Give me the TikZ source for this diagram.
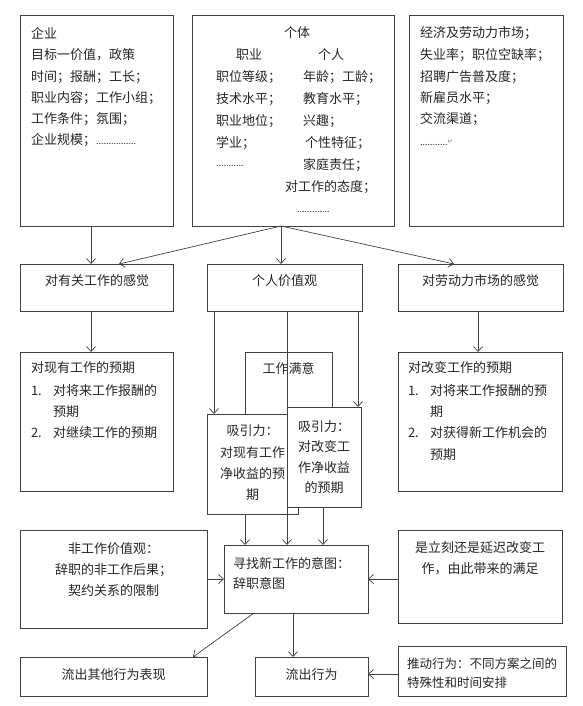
\documentclass[tikz,border=0pt]{standalone}
\usepackage{fontspec}
\setmainfont{Noto Sans CJK SC}
\newfontfamily\symfont{DejaVu Sans}
\usetikzlibrary{arrows.meta}
\newcommand{\mkbox}[5]{\node[box, anchor=north west, minimum width={#4-#2}, minimum height={#5-#3}] (#1) at (#2,#3) {};}
\newcommand{\dts}[1]{{\fontsize{9}{9}\selectfont #1}}
\begin{document}
\begin{tikzpicture}[x=1pt, y=-1pt,
  every node/.style={font=\fontsize{13}{15}\selectfont, text=black!85},
  box/.style={draw=black!75, line width=0.7pt, fill=white, inner sep=0pt, outer sep=0pt},
  openbox/.style={draw=black!75, line width=0.7pt, inner sep=0pt, outer sep=0pt},
  tl/.style={inner sep=0pt, outer sep=0pt, anchor=west},
  tb/.style={inner sep=0pt, outer sep=0pt, anchor=base west},
  tc/.style={inner sep=0pt, outer sep=0pt, anchor=center},
  arr/.style={draw=black!75, line width=0.7pt, -{Straight Barb[length=5pt, width=9pt, line width=0.7pt]}}]
\useasboundingbox (0,0) rectangle (582,706);

% ---------- top row ----------
\mkbox{qiye}{20}{15}{173}{226}
\node[tl] (q1) at (31,33) {企业};
\node[tl] (q2) at (31,55) {目标一价值，政策};
\node[tl] (q3) at (31,77) {时间；报酬；工长；};
\node[tl] (q4) at (31,98) {职业内容；工作小组；};
\node[tl] (q5) at (31,119) {工作条件；氛围；};
\node[tl] (q6) at (31,140) {企业规模；\dts{................}};

\mkbox{geti}{192}{15}{394}{226}
\node[tc] (g0) at (297,33) {个体};
\node[tc] (g1) at (249,55) {职业};
\node[tc] (g2) at (331,55) {个人};
\node[tl] (ga1) at (216,77) {职位等级；};
\node[tl] (ga2) at (216,99) {技术水平；};
\node[tl] (ga3) at (216,121) {职业地位；};
\node[tl] (ga4) at (216,143) {学业；};
\node[tb] (ga5) at (216,166) {\dts{...........}};
\node[tl] (gb1) at (303,77) {年龄；工龄；};
\node[tl] (gb2) at (303,99) {教育水平；};
\node[tl] (gb3) at (303,121) {兴趣；};
\node[tl] (gb4) at (305,143) {个性特征；};
\node[tl] (gb5) at (303,165) {家庭责任；};
\node[tl] (gb6) at (285,187) {对工作的态度；};
\node[tb] (gb7) at (297,212) {\dts{.............}};

\mkbox{jingji}{409}{15}{563}{226}
\node[tl] (j1) at (420,33) {经济及劳动力市场；};
\node[tl] (j2) at (420,55) {失业率；职位空缺率；};
\node[tl] (j3) at (420,77) {招聘广告普及度；};
\node[tl] (j4) at (420,98) {新雇员水平；};
\node[tl] (j5) at (420,119) {交流渠道；};
\node[tb] (j6) at (420,146) {\dts{...........}\raisebox{2pt}{\symfont\fontsize{6}{6}\selectfont\color{black!55}↵}};

% ---------- second row ----------
\mkbox{ganjue1}{20}{264}{173}{311}
\node[tc] (tg1) at (97,281) {对有关工作的感觉};
\mkbox{jiazhi}{207}{264}{362}{311}
\node[tc] (tjz) at (284.5,281) {个人价值观};
\mkbox{ganjue2}{398}{264}{563}{311}
\node[tc] (tg2) at (480.5,281) {对劳动力市场的感觉};

% ---------- expectations ----------
\mkbox{yuqi1}{20}{352}{173}{491}
\node[tl] (y1a) at (31,368) {对现有工作的预期};
\node[tl] (y1b) at (31,391) {1.};
\node[tl] (y1c) at (53,391) {对将来工作报酬的};
\node[tl] (y1d) at (53,412) {预期};
\node[tl] (y1e) at (31,433) {2.};
\node[tl] (y1f) at (53,433) {对继续工作的预期};

\mkbox{yuqi2}{398}{352}{562}{491}
\node[tl] (y2a) at (408,368) {对改变工作的预期};
\node[tl] (y2b) at (408,391) {1.};
\node[tl] (y2c) at (430,391) {对将来工作报酬的预};
\node[tl] (y2d) at (430,412) {期};
\node[tl] (y2e) at (408,433) {2.};
\node[tl] (y2f) at (430,433) {对获得新工作机会的};
\node[tl] (y2g) at (430,455) {预期};

% ---------- satisfaction & attraction ----------
\node[openbox, anchor=north west, minimum width=87, minimum height=100] (manyi) at (245,352) {};
\node[tc] (tmy) at (288.5,368) {工作满意};

\mkbox{xiyin1}{207}{414}{298}{514}
\node[tc] (x1a) at (252.5,431) {吸引力：};
\node[tc] (x1b) at (252.5,453) {对现有工作};
\node[tc] (x1c) at (252.5,474) {净收益的预};
\node[tc] (x1d) at (252.5,495) {期};

\mkbox{xiyin2}{287}{407}{361}{507}
\node[tc] (x2a) at (324,427) {吸引力：};
\node[tc] (x2b) at (324,447) {对改变工};
\node[tc] (x2c) at (324,468) {作净收益};
\node[tc] (x2d) at (324,488) {的预期};

% ---------- bottom ----------
\mkbox{feigz}{20}{530}{207}{628}
\node[tc] (f1) at (113.5,549) {非工作价值观：};
\node[tc] (f2) at (113.5,570) {辞职的非工作后果；};
\node[tc] (f3) at (113.5,591) {契约关系的限制};

\mkbox{xunzhao}{224}{545}{368}{613}
\node[tl] (xz1) at (233,563) {寻找新工作的意图：};
\node[tl] (xz2) at (233,583) {辞职意图};

\mkbox{lijike}{398}{530}{562}{623}
\node[tc] (l1) at (480,548) {是立刻还是延迟改变工};
\node[tc] (l2) at (480,569) {作，由此带来的满足};

\mkbox{lcother}{20}{657}{207}{696}
\node[tc] (tlo) at (113.5,675) {流出其他行为表现};
\mkbox{liuchu}{255}{657}{368}{696}
\node[tc] (tlc) at (311.5,675) {流出行为};
\mkbox{tuidong}{398}{646}{566}{696}
\node[tl, font=\fontsize{12.5}{15}\selectfont] (td1) at (407,664) {推动行为：不同方案之间的};
\node[tl, font=\fontsize{12.5}{15}\selectfont] (td2) at (407,683) {特殊性和时间安排};

% ---------- connectors ----------
\draw[arr] ([xshift=71pt]qiye.south west) -- ([xshift=71pt]ganjue1.north west);
\draw[arr] ([xshift=89pt]geti.south west) -- ([xshift=99pt]ganjue1.north west);
\draw[arr] ([xshift=89pt]geti.south west) -- ([xshift=74pt]jiazhi.north west);
\draw[arr] ([xshift=89pt]geti.south west) -- ([xshift=56pt]ganjue2.north west);
\draw[arr] ([xshift=71pt]ganjue1.south west) -- ([xshift=71pt]yuqi1.north west);
\draw[arr] ([xshift=80pt]ganjue2.south west) -- ([xshift=80pt]yuqi2.north west);
\draw[arr] ([xshift=7pt]jiazhi.south west) -- ([xshift=7pt]xiyin1.north west);
\draw[arr] ([xshift=151pt]jiazhi.south west) -- ([xshift=71pt]xiyin2.north west);
\draw[arr] ([xshift=80pt]jiazhi.south west) -- ([xshift=63pt]xunzhao.north west);
\draw[arr] ([xshift=38pt]xiyin1.south west) -- ([xshift=21pt]xunzhao.north west);
\draw[arr] ([xshift=36pt]xiyin2.south west) -- ([xshift=99pt]xunzhao.north west);
\draw[arr] ([yshift=-49pt]feigz.north east) -- ([yshift=-34pt]xunzhao.north west);
\draw[arr] ([yshift=-49pt]lijike.north west) -- ([yshift=-34pt]xunzhao.north east);
\draw[arr] ([xshift=30pt]xunzhao.south west) -- ([xshift=173pt]lcother.north west);
\draw[arr] ([xshift=69pt]xunzhao.south west) -- ([xshift=38pt]liuchu.north west);
\draw[arr] ([yshift=-28pt]tuidong.north west) -- ([yshift=-17pt]liuchu.north east);
\end{tikzpicture}
\end{document}
